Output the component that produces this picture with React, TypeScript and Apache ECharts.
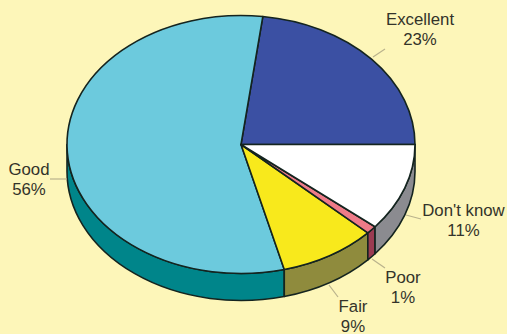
import { useEffect, useRef } from "react";
import * as echarts from "echarts";

// Survey responses, counter-clockwise from the east edge of the disc.
const categories = ["Excellent", "Good", "Fair", "Poor", "Don't know"];
const shares = [23, 56, 9, 1, 11];
const faceColors = ["#3B50A3", "#6CCADD", "#F8E91C", "#EE7B88", "#FFFFFF"];
const wallColors = ["#26357A", "#00858A", "#8F8B3D", "#9A3B52", "#8B8B90"];

const WIDTH = 507;
const HEIGHT = 334;
const BACKGROUND = "#FDF6B9";
const OUTLINE = "#14241F";
const LABEL_COLOR = "#33332A";
const LEADER_COLOR = "#B9B28C";

const CX = 241;
const CY = 144.5;
const RX = 174;
const RY = 129;
const DEPTH = 27;

// Label centre and leader line for each slice, in the order of `categories`.
const labelLayout = [
  { x: 420, y: 19, leader: [373, 57, 385, 49] },
  { x: 29, y: 169, leader: [50, 179, 67, 179] },
  { x: 353, y: 306, leader: [329, 285, 338, 297] },
  { x: 403, y: 277, leader: [372, 259, 385, 268] },
  { x: 463.5, y: 210, leader: [406, 215, 421, 219] },
];
const LINE_HEIGHT = 20;

const rad = (deg: number) => (deg * Math.PI) / 180;
const px = (deg: number) => CX + RX * Math.cos(rad(deg));
const py = (deg: number, drop = 0) => CY - RY * Math.sin(rad(deg)) + drop;

function facePath(a: number, b: number) {
  const large = b - a > 180 ? 1 : 0;
  return `M${CX} ${CY}L${px(a)} ${py(a)}A${RX} ${RY} 0 ${large} 0 ${px(b)} ${py(b)}Z`;
}

function wallPath(a: number, b: number) {
  return (
    `M${px(a)} ${py(a)}A${RX} ${RY} 0 0 0 ${px(b)} ${py(b)}` +
    `L${px(b)} ${py(b, DEPTH)}A${RX} ${RY} 0 0 1 ${px(a)} ${py(a, DEPTH)}Z`
  );
}

function renderSlice(params: any, api: any) {
  const i = params.dataIndex;
  const total = shares.reduce((s, v) => s + v, 0);
  const before = shares.slice(0, i).reduce((s, v) => s + v, 0);
  const start = (before / total) * 360;
  const end = start + (api.value(0) / total) * 360;
  const children: any[] = [];

  // Only the front half of the rim (180 to 360 degrees) faces the viewer.
  const wallStart = Math.max(start, 180);
  if (end > wallStart) {
    children.push({
      type: "path",
      shape: { pathData: wallPath(wallStart, end) },
      style: { fill: wallColors[i], stroke: OUTLINE, lineWidth: 1.6, lineJoin: "round" },
    });
  }
  children.push({
    type: "path",
    shape: { pathData: facePath(start, end) },
    style: { fill: faceColors[i], stroke: OUTLINE, lineWidth: 1.6, lineJoin: "round" },
  });

  const { x, y, leader } = labelLayout[i];
  children.push({
    type: "line",
    shape: { x1: leader[0], y1: leader[1], x2: leader[2], y2: leader[3] },
    style: { stroke: LEADER_COLOR, lineWidth: 1.2 },
  });
  [categories[i], `${api.value(0)}%`].forEach((text, line) => {
    children.push({
      type: "text",
      style: {
        text,
        x,
        y: y + line * LINE_HEIGHT,
        fill: LABEL_COLOR,
        font: '16.8px "Liberation Sans", Arial, sans-serif',
        align: "center",
        verticalAlign: "middle",
      },
    });
  });
  return { type: "group", children };
}

export default function App() {
  const ref = useRef<HTMLDivElement>(null);

  useEffect(() => {
    document.body.style.margin = "0";
    const chart = echarts.init(ref.current!, null, { renderer: "svg" });
    chart.setOption({
      animation: false,
      backgroundColor: BACKGROUND,
      series: [
        {
          type: "custom",
          coordinateSystem: "none",
          silent: true,
          clip: false,
          data: shares.map((v, i) => ({ name: categories[i], value: [v] })),
          renderItem: renderSlice,
        },
      ],
    });
    return () => chart.dispose();
  }, []);

  return <div ref={ref} style={{ width: WIDTH, height: HEIGHT }} />;
}
